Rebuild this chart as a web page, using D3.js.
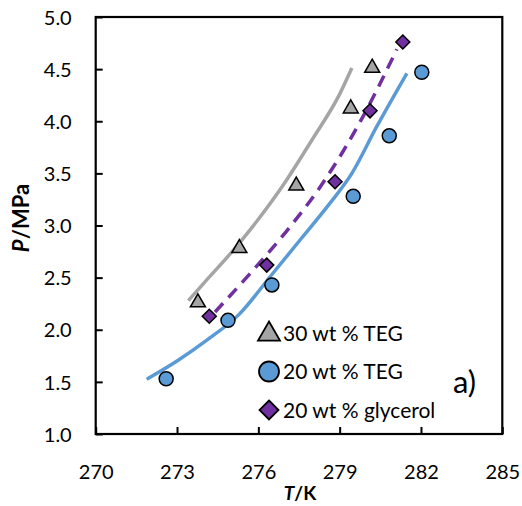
<html>
<head>
<meta charset="utf-8">
<script src="https://d3js.org/d3.v7.min.js"></script>
<style>
body { margin:0; background:#fff; }
text { font-family: Lato, "Open Sans", sans-serif; fill:#000; }
</style>
</head>
<body>
<div id="container"></div>
<script>

// data
var teg30 = [[273.77, 2.27], [275.3, 2.79], [277.4, 3.39], [279.41, 4.13], [280.2, 4.52]];
var teg20 = [[272.6, 1.53], [274.88, 2.09], [276.5, 2.43], [279.5, 3.28], [280.83, 3.86], [282.03, 4.47]];
var gly20 = [[274.19, 2.13], [276.31, 2.62], [278.83, 3.42], [280.12, 4.10], [281.33, 4.76]];

// model curves
var teg30Curve = [[273.42, 2.28], [274.0, 2.45], [275.0, 2.74], [276.0, 3.06], [277.0, 3.42], [278.0, 3.83], [279.0, 4.26], [279.45, 4.51]];
var teg20Curve = [[271.88, 1.525], [273.0, 1.70], [274.1, 1.90], [275.3, 2.15], [276.5, 2.53], [277.6, 2.88], [278.6, 3.20], [279.45, 3.50], [280.37, 3.95], [281.48, 4.46]];
var gly20Curve = [[274.40, 2.17], [275.7, 2.54], [276.99, 2.93], [278.28, 3.37], [279.1, 3.70], [279.87, 4.05], [281.11, 4.69]];

var xTicks = [270, 273, 276, 279, 282, 285];
var yTicks = [1.0, 1.5, 2.0, 2.5, 3.0, 3.5, 4.0, 4.5, 5.0];

var legendItems = [
	{label: "30 wt % TEG", shape: "tri"},
	{label: "20 wt % TEG", shape: "circ"},
	{label: "20 wt % glycerol", shape: "dia"}
];

var width = 522, height = 506;
var pLeft = 95.7, pRight = 502.3, pTop = 17, pBottom = 434;

var svg = d3.select('#container').append('svg').attr('width', width).attr('height', height);

var x = d3.scaleLinear().domain([270, 285]).range([pLeft, pRight]);
var y = d3.scaleLinear().domain([1, 5]).range([pBottom, pTop]);

var grey = "#a5a5a5", blue = "#5b9bd5", purple = "#7030a0";

// axes, ticks point inward
var xAxis = d3.axisBottom(x).tickValues(xTicks).tickSizeInner(-7).tickSizeOuter(0).tickFormat(d3.format("d"));
var yAxis = d3.axisLeft(y).tickValues(yTicks).tickSizeInner(-7).tickSizeOuter(0).tickFormat(d3.format(".1f"));

var gx = svg.append('g').attr('transform', 'translate(0,' + pBottom + ')').call(xAxis);
var gy = svg.append('g').attr('transform', 'translate(' + pLeft + ',0)').call(yAxis);

gx.select('.domain').remove();
gy.select('.domain').remove();
gx.selectAll('.tick line').attr('stroke', '#000').attr('stroke-width', 2);
gy.selectAll('.tick line').attr('stroke', '#000').attr('stroke-width', 2);
gx.selectAll('.tick text').attr('y', 45).attr('dy', 0).style('font-size', '20px').attr('fill', '#000');
gy.selectAll('.tick text').attr('x', -24).attr('dy', '0.36em').style('font-size', '20px').attr('fill', '#000');

// frame
svg.append('rect')
	.attr('x', pLeft).attr('y', pTop)
	.attr('width', pRight - pLeft).attr('height', pBottom - pTop)
	.attr('fill', 'none').attr('stroke', '#000').attr('stroke-width', 2.2);

var line = d3.line()
	.x(function(d) { return x(d[0]); })
	.y(function(d) { return y(d[1]); })
	.curve(d3.curveMonotoneX);

svg.append('path').datum(teg30Curve).attr('d', line)
	.attr('fill', 'none').attr('stroke', grey).attr('stroke-width', 3.5);
svg.append('path').datum(teg20Curve).attr('d', line)
	.attr('fill', 'none').attr('stroke', blue).attr('stroke-width', 3.5);
svg.append('path').datum(gly20Curve).attr('d', line)
	.attr('fill', 'none').attr('stroke', purple).attr('stroke-width', 3.5)
	.attr('stroke-dasharray', '12,8');

function triPath(s) {
	var h = s * 0.87;
	return 'M0,' + (-h * 0.6) + 'L' + (s / 2) + ',' + (h * 0.4) + 'L' + (-s / 2) + ',' + (h * 0.4) + 'Z';
}
function diaPath(s) {
	var r = s / 2;
	return 'M0,' + (-r) + 'L' + r + ',0L0,' + r + 'L' + (-r) + ',0Z';
}

svg.selectAll('.tri').data(teg30).enter().append('path')
	.attr('transform', function(d) { return 'translate(' + x(d[0]) + ',' + y(d[1]) + ')'; })
	.attr('d', triPath(15))
	.attr('fill', grey).attr('stroke', '#000').attr('stroke-width', 1.5);

svg.selectAll('.circ').data(teg20).enter().append('circle')
	.attr('cx', function(d) { return x(d[0]); })
	.attr('cy', function(d) { return y(d[1]); })
	.attr('r', 7)
	.attr('fill', blue).attr('stroke', '#000').attr('stroke-width', 1.5);

svg.selectAll('.dia').data(gly20).enter().append('path')
	.attr('transform', function(d) { return 'translate(' + x(d[0]) + ',' + y(d[1]) + ')'; })
	.attr('d', diaPath(14))
	.attr('fill', purple).attr('stroke', '#000').attr('stroke-width', 1.5);

// legend
var lg = svg.append('g');
legendItems.forEach(function(d, i) {
	var cy = 333 + i * 38.5;
	var m;
	if (d.shape == "tri") {
		m = lg.append('path').attr('d', triPath(22)).attr('fill', grey);
	} else if (d.shape == "circ") {
		m = lg.append('circle').attr('r', 10).attr('fill', blue);
	} else {
		m = lg.append('path').attr('d', diaPath(19)).attr('fill', purple);
	}
	m.attr('transform', 'translate(269,' + cy + ')').attr('stroke', '#000').attr('stroke-width', 1.8);
	lg.append('text').attr('x', 283).attr('y', cy).attr('dy', '0.36em')
		.style('font-size', '21px').text(d.label);
});

svg.append('text').attr('x', 453).attr('y', 393).style('font-size', '31px').text('a)');

// axis titles
var xt = svg.append('text').attr('x', 300).attr('y', 500).attr('text-anchor', 'middle')
	.style('font-size', '19px').style('font-weight', 'bold');
xt.append('tspan').style('font-style', 'italic').text('T');
xt.append('tspan').text('/K');

var yt = svg.append('text').attr('transform', 'translate(29,218) rotate(-90)').attr('text-anchor', 'middle')
	.style('font-size', '22px').style('font-weight', 'bold');
yt.append('tspan').style('font-style', 'italic').text('P');
yt.append('tspan').text('/MPa');

</script>
</body>
</html>
